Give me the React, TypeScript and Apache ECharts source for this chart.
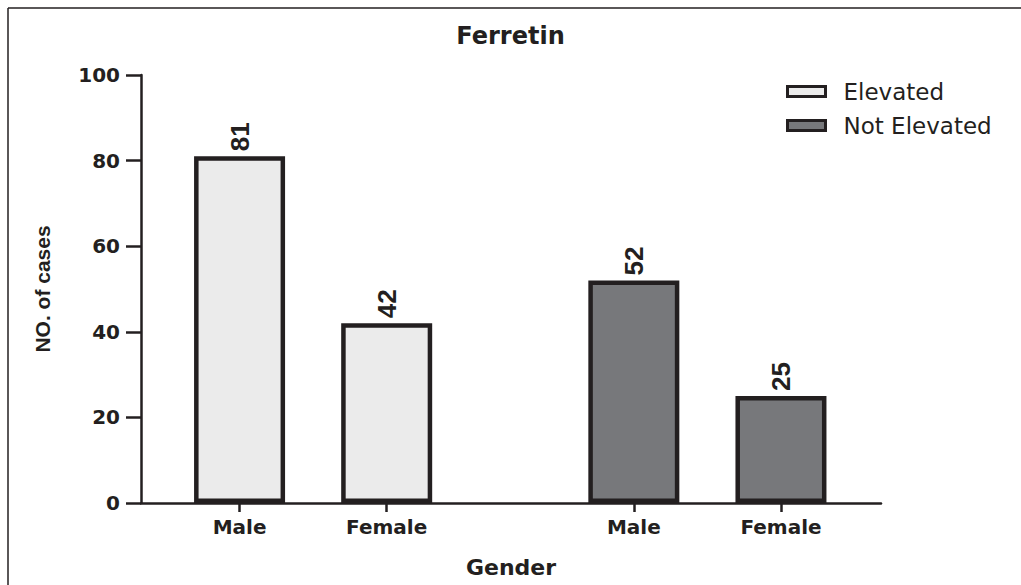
import React, { useEffect, useRef } from "react";
import * as echarts from "echarts";

const title = "Ferretin";
const seriesNames = ["Elevated", "Not Elevated"];
const genderLabels = ["Male", "Female", "Male", "Female"];
// slot positions of the four bars along the x axis (two groups with a gap)
const slotPositions = [1, 2, 3.68, 4.68];
const elevatedValues = [81, 42];
const notElevatedValues = [52, 25];

const INK = "#231f20";
const BOLD = "'DejaVu Sans', 'Liberation Sans', Arial, sans-serif";
const NARROW = "'Liberation Sans Narrow', 'Liberation Sans', Arial, sans-serif";

export default function App() {
  const ref = useRef<HTMLDivElement>(null);
  useEffect(() => {
    if (!ref.current) return;
    const chart = echarts.init(ref.current, null, { renderer: "svg" });
    const labelFor = (v: number) => {
      let best = 0;
      slotPositions.forEach((p, i) => {
        if (Math.abs(p - v) < Math.abs(slotPositions[best] - v)) best = i;
      });
      return genderLabels[best];
    };
    const barLabel = {
      show: true,
      position: "top",
      rotate: 90,
      align: "left",
      verticalAlign: "middle",
      distance: 5,
      color: INK,
      fontFamily: NARROW,
      fontSize: 26,
      fontWeight: "bold",
      formatter: (p: any) => String(p.value[1]),
    };
    chart.setOption({
      animation: false,
      backgroundColor: "#ffffff",
      title: {
        text: title,
        left: "center",
        top: 19,
        textStyle: { color: INK, fontFamily: BOLD, fontSize: 24, fontWeight: "bold" },
      },
      legend: {
        orient: "vertical",
        left: 781,
        top: 75,
        itemWidth: 38,
        itemHeight: 10,
        itemGap: 11,
        icon: "rect",
        itemStyle: { borderWidth: 3, borderColor: INK },
        textStyle: {
          color: INK,
          fontFamily: "'DejaVu Sans', 'Liberation Sans', Arial, sans-serif",
          fontSize: 23,
          lineHeight: 23,
          padding: [0, 0, 0, 13],
        },
        data: seriesNames,
      },
      grid: { left: 141, right: 140, top: 75, bottom: 82 },
      xAxis: {
        type: "value",
        min: 0.33,
        max: 5.36,
        name: "Gender",
        nameLocation: "middle",
        nameGap: 53,
        nameTextStyle: { color: INK, fontFamily: BOLD, fontSize: 22, fontWeight: "bold" },
        splitLine: { show: false },
        axisLine: { show: true, lineStyle: { color: INK, width: 2.5 } },
        axisTick: {
          show: true,
          customValues: slotPositions,
          length: 9,
          lineStyle: { color: INK, width: 2.5 },
        },
        axisLabel: {
          customValues: slotPositions,
          formatter: (v: number) => labelFor(v),
          color: INK,
          fontFamily: BOLD,
          fontSize: 20,
          fontWeight: "bold",
          margin: 14,
        },
      },
      yAxis: {
        type: "value",
        min: 0,
        max: 100,
        interval: 20,
        name: "NO. of cases",
        nameLocation: "middle",
        nameGap: 88,
        nameTextStyle: { color: INK, fontFamily: NARROW, fontSize: 21, fontWeight: "bold" },
        splitLine: { show: false },
        axisLine: { show: true, lineStyle: { color: INK, width: 2.5 } },
        axisTick: {
          show: true,
          inside: false,
          length: 15,
          lineStyle: { color: INK, width: 2.5 },
        },
        axisLabel: {
          color: INK,
          fontFamily: BOLD,
          fontSize: 20,
          fontWeight: "bold",
          margin: 21,
        },
      },
      series: [
        {
          name: seriesNames[0],
          type: "bar",
          barWidth: 91,
          barGap: "-100%",
          data: elevatedValues.map((v, i) => [slotPositions[i], v]),
          itemStyle: { color: "#ebebeb", borderColor: INK, borderWidth: 4.5 },
          label: barLabel,
        },
        {
          name: seriesNames[1],
          type: "bar",
          barWidth: 91,
          barGap: "-100%",
          data: notElevatedValues.map((v, i) => [slotPositions[i + 2], v]),
          itemStyle: { color: "#77787b", borderColor: INK, borderWidth: 4.5 },
          label: barLabel,
        },
      ],
      graphic: [
        {
          type: "line",
          shape: { x1: 8, y1: 8, x2: 1021, y2: 8 },
          style: { stroke: INK, lineWidth: 1.5 },
        },
        {
          type: "line",
          shape: { x1: 8, y1: 8, x2: 8, y2: 585 },
          style: { stroke: INK, lineWidth: 1.5 },
        },
      ],
    });
    return () => chart.dispose();
  }, []);
  return (
    <div
      ref={ref}
      style={{ position: "fixed", left: 0, top: 0, width: 1021, height: 585 }}
    />
  );
}
